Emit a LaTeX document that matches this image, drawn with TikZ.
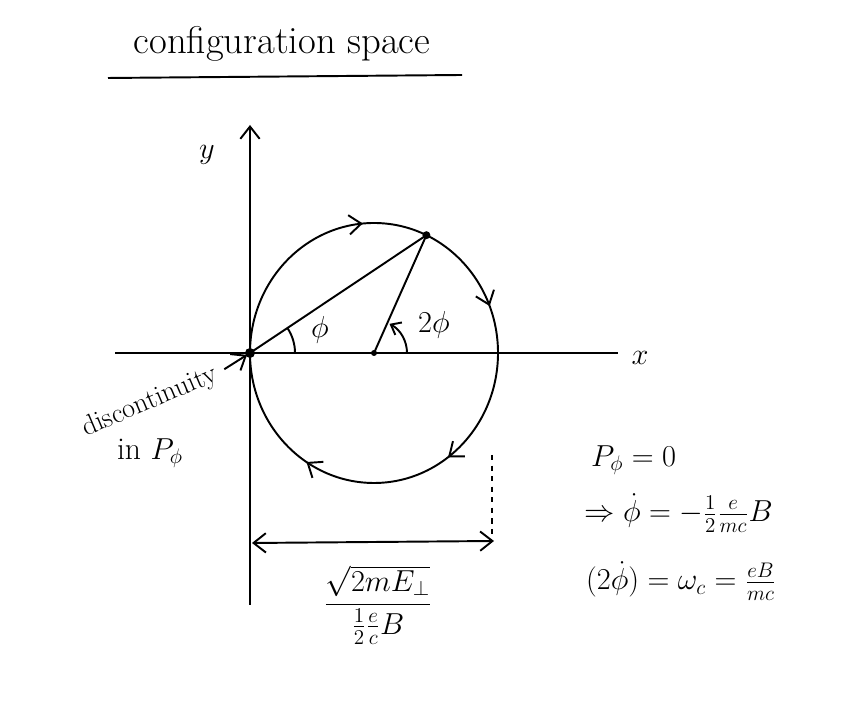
\documentclass[tikz,border=0pt]{standalone}
\usepackage{amsmath}
\usetikzlibrary{arrows.meta,positioning,calc,decorations.markings}

\begin{document}
\begin{tikzpicture}[x=0.02cm,y=0.02cm,
  ink/.style={line width=1.1pt,black},
  arr/.style={ink,-{Straight Barb[length=7pt,width=11pt]}},
  hand/.style={font=\fontsize{18}{22}\selectfont},
  flow/.style={postaction={decorate},decoration={markings,
    mark=at position 0.236 with {\arrow{Straight Barb[length=7pt,width=11pt]}},
    mark=at position 0.44 with {\arrow{Straight Barb[length=7pt,width=11pt]}},
    mark=at position 0.65 with {\arrow{Straight Barb[length=7pt,width=11pt]}},
    mark=at position 0.84 with {\arrow{Straight Barb[length=7pt,width=11pt]}}}}]
  \useasboundingbox (0,0) rectangle (865,719);
  % Title
  \node[font=\fontsize{22}{26}\selectfont] (title) at (282,675) {configuration space};
  \draw[ink] (108,641) -- (462,644);
  % Axes
  \coordinate (O) at (250,366);
  \coordinate (C) at (374,366);
  \draw[ink] (115,366) -- (618,366);
  \draw[arr] (250,114) -- (250,594);
  \node[hand] (xlab) at (640,361) {$x$};
  \node[hand] (ylab) at (207,564) {$y$};
  % Orbit
  \draw[ink,flow] (O) arc[start angle=180,end angle=-180,x radius=124,y radius=130];
  \coordinate (P) at ($(C)+(52.4,117.8)$);
  \draw[ink] (O) -- (P);
  \draw[ink] (C) -- (P);
  \fill (O) circle (5);
  \fill (P) circle (4);
  \fill (C) circle (3);
  % Angles
  \draw[ink] ($(O)+(45,0)$) arc[start angle=0,end angle=33.8,radius=45];
  \node[hand] (phi) at (320,389) {$\phi$};
  \draw[ink,-{Straight Barb[length=5pt,width=8pt]}] ($(C)+(33,0)$) arc[start angle=0,end angle=62,radius=33];
  \node[hand] (twophi) at (434,394) {$2\phi$};
  % Discontinuity
  \node[font=\fontsize{16}{20}\selectfont,rotate=23,inner sep=1pt] (disc) at (150,317) {discontinuity};
  \node[hand] (inp) at (150,266) {in $P_\phi$};
  \draw[arr,shorten <=4pt,shorten >=2pt] (disc.east) -- (O);
  % Diameter
  \coordinate (dimL) at (252,176);
  \coordinate (dimR) at (494,178);
  \draw[ink,dashed] (492,264) -- (492,180);
  \draw[ink,{Straight Barb[length=7pt,width=11pt]}-{Straight Barb[length=7pt,width=11pt]}] (dimL) -- (dimR);
  \node[hand] (diam) at (378,114) {$\dfrac{\sqrt{2mE_\perp}}{\frac{1}{2}\frac{e}{c}B}$};
  % Conditions
  \node[hand,anchor=west] (eq1) at (585,259) {$P_\phi=0$};
  \node[hand,anchor=west] (eq2) at (578,206) {$\Rightarrow\dot\phi=-\frac{1}{2}\frac{e}{mc}B$};
  \node[hand,anchor=west] (eq3) at (580,138) {$(2\dot\phi)=\omega_c=\frac{eB}{mc}$};
\end{tikzpicture}
\end{document}
